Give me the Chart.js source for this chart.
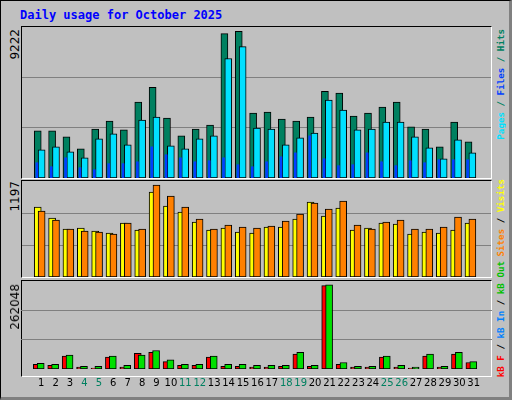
<!DOCTYPE html>
<html>
<head>
<meta charset="utf-8">
<script src="https://cdn.jsdelivr.net/npm/chart.js@4"></script>
<style>
  body { margin: 0; background: #fff; }
  #frame { position: absolute; left: 0; top: 0; width: 508px; height: 396px; background: #c0c0c0;
    border: 1px solid #000; border-right: 3px solid #808080; border-bottom: 3px solid #808080; }
  .panel { position: absolute; left: 20px; width: 471px; border: 1px solid #000; border-right-color: #fff; border-bottom-color: #fff; box-sizing: border-box; }
  .panel canvas { position: absolute; left: 0; top: 0; }
  #title { position: absolute; left: 19px; top: 7px; font: bold 12px "DejaVu Sans Mono", monospace; color: #0000ff; }
  .vert { position: absolute; writing-mode: vertical-rl; transform: rotate(180deg); white-space: nowrap; }
  .ylab { font: 12px "DejaVu Sans", sans-serif; color: #000; left: 7px; }
  .leg { font: bold 9.2px "DejaVu Sans Mono", monospace; left: 494px; }
</style>
</head>
<body>
<div id="frame">
  <div id="title">Daily usage for October 2025</div>
  <div class="panel" style="top:25px;height:153px"><canvas id="c1"></canvas></div>
  <div class="panel" style="top:179px;height:98px"><canvas id="c2"></canvas></div>
  <div class="panel" style="top:279px;height:97px"></div>
  <canvas id="c3" style="position:absolute;left:20px;top:280px"></canvas>
  <div class="vert ylab" style="top:28px">9222</div>
  <div class="vert ylab" style="top:180px">1197</div>
  <div class="vert ylab" style="top:283px">262048</div>
  <div class="vert leg" style="top:28px"><span style="color:#00e0ff">Pages</span><span style="color:#008060"> / </span><span style="color:#0040ff">Files</span><span style="color:#008060"> / Hits</span></div>
  <div class="vert leg" style="top:178px"><span style="color:#ff8000">Sites</span><span style="color:#000"> / </span><span style="color:#ffff00">Visits</span></div>
  <div class="vert leg" style="top:260px"><span style="color:#ff0000">kB F</span><span style="color:#000"> / </span><span style="color:#0080ff">kB In</span><span style="color:#000"> / </span><span style="color:#00c000">kB Out</span></div>
</div>
<script>
const days = [1,2,3,4,5,6,7,8,9,10,11,12,13,14,15,16,17,18,19,20,21,22,23,24,25,26,27,28,29,30,31]
const weekends = [4,5,11,12,18,19,25,26]

const hits = [2960,2960,2580,1835,3080,3580,3020,4770,5700,3770,2650,3080,3330,9070,9222,4080,4140,3700,3580,3830,5450,5330,3890,4080,4450,4770,3210,3080,1960,3520,2270]
const pages = [1770,1960,1650,1270,2460,2770,2080,3640,3830,2020,1835,2460,2650,7510,8260,3140,3080,2080,2520,2830,4890,4270,3020,3080,3520,3520,2580,1900,1210,2400,1580]
const files = [960,710,1270,650,520,900,900,1020,1960,1460,1270,1020,1085,1270,835,710,1020,1335,1580,2650,1210,775,835,1580,1020,775,1085,960,1150,1150,1150]

const visits = [911,767,624,637,599,572,703,612,1106,924,846,716,612,637,586,572,651,651,755,976,794,898,612,637,703,690,560,586,572,612,703]
const sites = [859,742,624,599,586,560,703,624,1197,1054,911,755,624,677,651,637,664,729,820,963,885,989,677,624,716,742,624,624,651,781,755]

const kbF = [14400,11500,40300,5760,2880,37400,5760,49000,51800,23000,11500,11500,37400,8640,8640,5760,5760,8640,46100,8640,259200,14400,5760,5760,37400,5760,2880,40300,5760,46100,20200]
const kbOut = [17300,14400,43200,8640,8640,40300,11500,43200,57600,28800,14400,14400,40300,14400,14400,11500,11500,11500,51800,11500,262048,20200,8640,8640,40300,11500,5760,46100,8640,51800,23000]

function pts(vals, off) { return vals.map((v, i) => ({ x: days[i] + off, y: v })) }

function ds(vals, off, color, w, order, bw) {
  return { data: pts(vals, off), backgroundColor: color, borderColor: '#000', borderWidth: bw,
    barThickness: w, grouped: false, order: order, borderSkipped: false }
}

function makeChart(id, w, h, datasets, ymax, showX) {
  const cv = document.getElementById(id)
  cv.width = w; cv.height = h
  cv.style.width = w + 'px'; cv.style.height = h + 'px'
  return new Chart(cv, {
    type: 'bar',
    data: { datasets: datasets },
    options: {
      responsive: false, animation: false,
      layout: { padding: 0 },
      plugins: { legend: { display: false }, tooltip: { enabled: false } },
      scales: {
        x: {
          type: 'linear', min: 0.13, max: 31.74,
          display: showX,
          afterBuildTicks: ax => { ax.ticks = days.map(d => ({ value: d })) },
          grid: { display: false, drawTicks: false }, border: { display: false },
          ticks: {
            padding: 8, autoSkip: false, maxRotation: 0,
            font: { family: 'DejaVu Sans', size: 10 },
            color: c => weekends.includes(c.tick.value) ? '#008060' : '#000'
          }
        },
        y: {
          min: 0, max: ymax, display: true,
          afterBuildTicks: ax => { ax.ticks = [{ value: ymax / 3 }, { value: ymax * 2 / 3 }] },
          afterFit: ax => { ax.width = 0 },
          ticks: { display: false },
          grid: { color: '#808080', lineWidth: 1, drawTicks: false },
          border: { display: false }
        }
      }
    }
  })
}

makeChart('c1', 469, 151, [
  ds(hits, -0.30, '#008060', 7, 3, 1),
  ds(pages, -0.03, '#00e0ff', 7, 2, 1),
  ds(files, -0.36, '#0040ff', 2, 1, 0)
], 9490, false)

makeChart('c2', 469, 96, [
  ds(visits, -0.30, '#ffff00', 7, 2, 1),
  ds(sites, -0.03, '#ff8000', 7, 1, 1)
], 1249, false)

makeChart('c3', 471, 116, [
  ds(kbF, -0.30, '#ff0000', 7, 2, 1),
  ds(kbOut, -0.03, '#00e000', 7, 1, 1)
], 273600, true)
</script>
</body>
</html>
